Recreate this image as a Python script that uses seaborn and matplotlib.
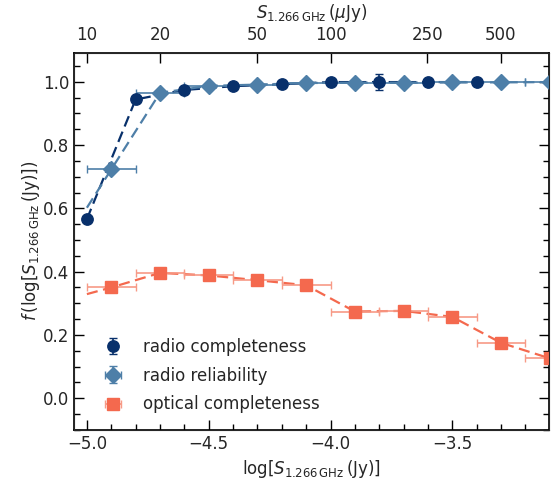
import numpy as np
import pandas as pd
import seaborn as sns
import matplotlib.pyplot as plt
from matplotlib.ticker import MultipleLocator, FixedLocator, NullLocator

# radio completeness (bins in log S)
comp_x = [-5.0, -4.8, -4.6, -4.4, -4.2, -4.0, -3.8, -3.6, -3.4]
comp_y = [0.566, 0.944, 0.974, 0.986, 0.992, 0.999, 0.999, 0.999, 0.999]
comp_yerr = [0.008, 0.006, 0.005, 0.004, 0.004, 0.004, 0.026, 0.004, 0.004]

# radio reliability
rel_x = [-4.9, -4.7, -4.5, -4.3, -4.1, -3.9, -3.7, -3.5, -3.3, -3.1]
rel_y = [0.723, 0.965, 0.987, 0.991, 0.996, 0.997, 0.997, 0.998, 0.998, 0.999]
rel_xerr = [0.1] * 10
rel_yerr = [0.006, 0.005, 0.004, 0.004, 0.004, 0.004, 0.004, 0.004, 0.004, 0.004]

# optical completeness
opt_x = [-4.9, -4.7, -4.5, -4.3, -4.1, -3.9, -3.7, -3.5, -3.3, -3.1]
opt_y = [0.350, 0.396, 0.388, 0.373, 0.357, 0.274, 0.276, 0.257, 0.175, 0.126]
opt_xerr = [0.1] * 10

# dashed curves start at the first bin edge (extrapolated)
rel_line_x = [-5.0] + rel_x
rel_line_y = [0.602] + rel_y
opt_line_x = [-5.0] + opt_x
opt_line_y = [0.329] + opt_y

top_ticks = [10, 20, 50, 100, 250, 500]

c_comp = "#08306b"
c_rel = "#4e7fa8"
c_opt = "#f4694e"
txt = "#262626"

sns.set_style("ticks")
plt.rcParams['font.family'] = ['DejaVu Sans']
plt.rcParams['mathtext.fontset'] = 'dejavusans'
plt.rcParams['font.size'] = 12
plt.rcParams['text.color'] = txt
plt.rcParams['axes.labelcolor'] = txt

fig, ax = plt.subplots(figsize=(5.54, 4.83), dpi=100)
fig.subplots_adjust(left=0.134, right=0.991, bottom=0.110, top=0.891)

df_comp = pd.DataFrame({"x": comp_x, "y": comp_y})
df_rel = pd.DataFrame({"x": rel_line_x, "y": rel_line_y})
df_opt = pd.DataFrame({"x": opt_line_x, "y": opt_line_y})

dash = (5, 2.5)
sns.lineplot(data=df_comp, x="x", y="y", ax=ax, color=c_comp, lw=1.6,
             linestyle=(0, dash), zorder=2)
sns.lineplot(data=df_rel, x="x", y="y", ax=ax, color=c_rel, lw=1.6,
             linestyle=(0, dash), zorder=2)
sns.lineplot(data=df_opt, x="x", y="y", ax=ax, color=c_opt, lw=1.6,
             linestyle=(0, dash), zorder=2)

ax.errorbar(comp_x, comp_y, yerr=comp_yerr, fmt="o", color=c_comp, ms=8.2,
            ecolor=c_comp, elinewidth=1.2, capsize=3, label="radio completeness", zorder=4)
ax.errorbar(rel_x, rel_y, xerr=rel_xerr, yerr=rel_yerr, fmt="D", color=c_rel, ms=8.5,
            ecolor=c_rel, elinewidth=1.2, capsize=3, label="radio reliability", zorder=3)
ax.errorbar(opt_x, opt_y, xerr=opt_xerr, fmt="s", color=c_opt, ms=8.3,
            ecolor="#f79a86", elinewidth=1.2, capsize=3, label="optical completeness", zorder=3)

ax.set_xlim(-5.052, -3.103)
ax.set_ylim(-0.1, 1.092)
ax.xaxis.set_major_locator(MultipleLocator(0.5))
ax.xaxis.set_minor_locator(MultipleLocator(0.1))
ax.yaxis.set_major_locator(MultipleLocator(0.2))
ax.yaxis.set_minor_locator(MultipleLocator(0.05))
ax.tick_params(which="both", direction="in", right=True, top=False, color="black",
               labelcolor=txt)
ax.tick_params(which="major", length=7, width=1, labelsize=12)
ax.tick_params(which="minor", length=4, width=1)
ax.set_xticklabels([f"{t:.1f}".replace("-", "\u2212") for t in ax.get_xticks()])

ax.set_xlabel(r"$\log[S_{1.266\,\mathrm{GHz}}\,(\mathrm{Jy})]$", fontsize=12, labelpad=4)
ax.set_ylabel(r"$f\,(\log[S_{1.266\,\mathrm{GHz}}\,(\mathrm{Jy})])$", fontsize=12, labelpad=1)

for sp in ax.spines.values():
    sp.set_color("black")
    sp.set_linewidth(1.2)

top = ax.twiny()
top.set_xscale("log")
lo, hi = ax.get_xlim()
top.set_xlim(10 ** (lo + 6), 10 ** (hi + 6))
top.xaxis.set_major_locator(FixedLocator(top_ticks))
top.xaxis.set_minor_locator(NullLocator())
top.set_xticklabels([str(t) for t in top_ticks])
top.tick_params(which="major", direction="in", length=7, width=1, labelsize=12,
                color="black", labelcolor=txt, pad=6)
top.set_xlabel(r"$S_{1.266\,\mathrm{GHz}}\,(\mu\mathrm{Jy})$", fontsize=12, labelpad=6)

leg = ax.legend(loc="lower left", bbox_to_anchor=(0.015, 0.004), frameon=False,
                fontsize=12, labelspacing=0.65, handletextpad=0.8)

fig.savefig("out.png", dpi=100)
